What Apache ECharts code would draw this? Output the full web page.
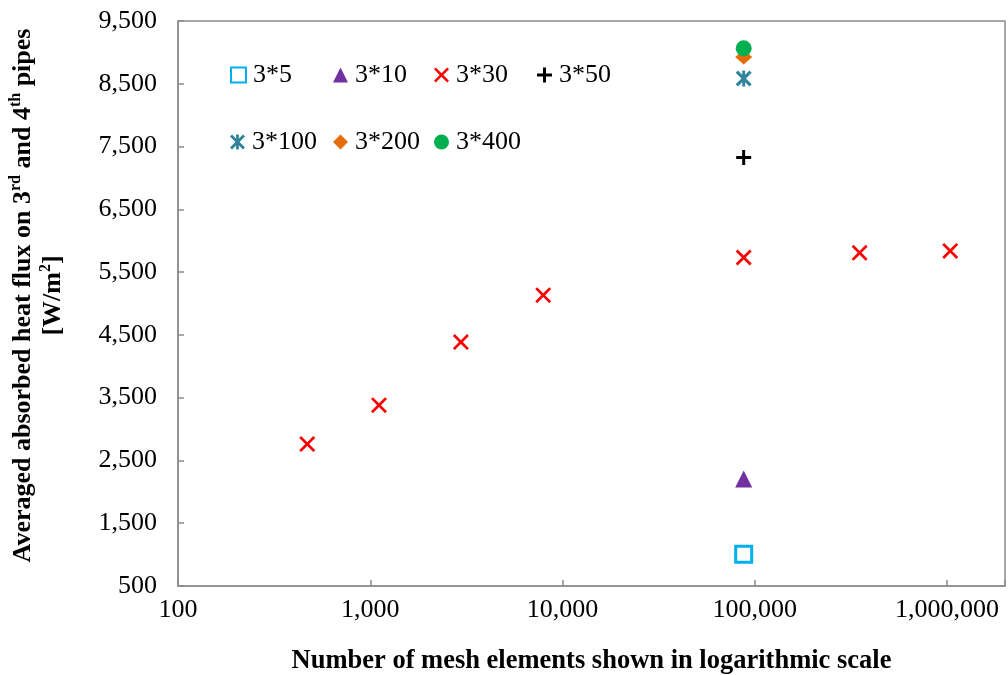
<!DOCTYPE html>
<html>
<head>
<meta charset="utf-8">
<script src="https://cdn.jsdelivr.net/npm/echarts@6/dist/echarts.min.js"></script>
<style>
  html, body { margin: 0; padding: 0; background: #fff; }
  #chart { width: 1008px; height: 675px; }
</style>
</head>
<body>
<div id="chart"></div>
<script>
// Mesh-independence study: absorbed heat flux vs number of mesh elements
const seriesNames = ['3*5', '3*10', '3*30', '3*50', '3*100', '3*200', '3*400'];

// 3*30 configuration refined over several meshes
const meshCounts30 = [470, 1110, 2960, 7930, 87500, 350800, 1038000];
const flux30 = [2760, 3380, 4385, 5133, 5733, 5807, 5838];

// other configurations evaluated on the chosen mesh
const singleMesh = 87500;
const singleNames = ['3*5', '3*10', '3*50', '3*100', '3*200', '3*400'];
const singleFlux = [1005, 2205, 7325, 8583, 8925, 9065];

const yTicks = [500, 1500, 2500, 3500, 4500, 5500, 6500, 7500, 8500, 9500];

const FONT = "'Liberation Serif', 'Times New Roman', serif";

// filled outline shapes for stroke-like markers
const xPath = 'path://M0 12 L12 0 L50 38 L88 0 L100 12 L62 50 L100 88 L88 100 L50 62 L12 100 L0 88 L38 50 Z';
const plusPath = 'path://M40 0 L60 0 L60 40 L100 40 L100 60 L60 60 L60 100 L40 100 L40 60 L0 60 L0 40 L40 40 Z';
const starPath = 'path://M0 14 L14 0 L50 36 L86 0 L100 14 L64 50 L100 86 L86 100 L50 64 L14 100 L0 86 L36 50 Z M41 0 L59 0 L59 100 L41 100 Z';

const styles = {
  '3*5':   { symbol: 'rect', size: 16, itemStyle: { color: '#ffffff', borderColor: '#00b0f0', borderWidth: 3, opacity: 1 } },
  '3*10':  { symbol: 'triangle', size: 17, itemStyle: { color: '#7030a0', opacity: 1 } },
  '3*30':  { symbol: xPath, size: 16, itemStyle: { color: '#ff0000', opacity: 1 } },
  '3*50':  { symbol: plusPath, size: 15, itemStyle: { color: '#000000', opacity: 1 } },
  '3*100': { symbol: starPath, size: 16, itemStyle: { color: '#31849b', opacity: 1 } },
  '3*200': { symbol: 'diamond', size: [17, 15], itemStyle: { color: '#e46c0a', opacity: 1 } },
  '3*400': { symbol: 'circle', size: 16, itemStyle: { color: '#00b050', opacity: 1 } }
};

function seriesData(name) {
  if (name === '3*30') return meshCounts30.map((m, i) => [m, flux30[i]]);
  const idx = singleNames.indexOf(name);
  return [[singleMesh, singleFlux[idx]]];
}

const series = seriesNames.map(name => ({
  name: name,
  type: 'scatter',
  symbol: styles[name].symbol,
  symbolSize: styles[name].size,
  itemStyle: styles[name].itemStyle,
  data: seriesData(name),
  z: name === '3*400' ? 5 : 3
}));

// legend placed as a two-row block inside the plot area
const legendCols = [230, 333, 434, 537];
const legendRows = [75, 142];
const legends = seriesNames.map((name, i) => {
  const row = i < 4 ? 0 : 1;
  const col = i < 4 ? i : i - 4;
  return {
    data: [name],
    left: legendCols[col],
    top: legendRows[row] - 13,
    padding: 0,
    itemWidth: 15,
    itemHeight: 15,
    itemGap: 0,
    selectedMode: false,
    textStyle: { fontFamily: FONT, fontSize: 26, color: '#000', lineHeight: 26, padding: [0, 0, 0, 2] }
  };
});

function commas(v) {
  return String(Math.round(v)).replace(/\B(?=(\d{3})+(?!\d))/g, ',');
}

const chart = echarts.init(document.getElementById('chart'), null, { renderer: 'canvas' });
chart.setOption({
  animation: false,
  backgroundColor: '#ffffff',
  grid: {
    left: 178, right: 3, top: 21, bottom: 89,
    outerBoundsMode: 'none',
    show: true, borderColor: '#8c8c8c', borderWidth: 1.5, backgroundColor: 'transparent'
  },
  legend: legends,
  xAxis: {
    type: 'log',
    logBase: 10,
    min: 100,
    max: 2000000,
    name: 'Number of mesh elements shown in logarithmic scale',
    nameLocation: 'middle',
    nameGap: 62,
    nameTextStyle: { fontFamily: FONT, fontSize: 26.5, fontWeight: 'bold', color: '#000' },
    axisLine: { lineStyle: { color: '#8c8c8c', width: 1.5 } },
    axisTick: { inside: true, length: 6, lineStyle: { color: '#8c8c8c', width: 1.5 } },
    minorTick: { show: false },
    splitLine: { show: false },
    axisLabel: {
      margin: 11,
      fontFamily: FONT, fontSize: 26, color: '#000',
      formatter: function (v) {
        const l = Math.log10(v);
        return Math.abs(l - Math.round(l)) < 1e-6 ? commas(v) : '';
      }
    }
  },
  yAxis: {
    type: 'value',
    min: yTicks[0],
    max: yTicks[yTicks.length - 1],
    interval: yTicks[1] - yTicks[0],
    name: '{b|Averaged absorbed heat flux on 3}{s|rd}{b| and 4}{s|th}{b| pipes}\n{b|[W/m}{s|2}{b|]}',
    nameLocation: 'middle',
    nameRotate: 90,
    nameGap: 110,
    nameTextStyle: {
      padding: [0, 0, 0, 16],
      rich: {
        b: { fontFamily: FONT, fontSize: 26, fontWeight: 'bold', color: '#000', lineHeight: 30 },
        s: { fontFamily: FONT, fontSize: 16, fontWeight: 'bold', color: '#000', lineHeight: 19, verticalAlign: 'top' }
      }
    },
    axisLine: { show: true, lineStyle: { color: '#8c8c8c', width: 1.5 } },
    axisTick: { show: true, inside: true, length: 6, lineStyle: { color: '#8c8c8c', width: 1.5 } },
    splitLine: { show: false },
    axisLabel: {
      margin: 21,
      fontFamily: FONT, fontSize: 26, color: '#000',
      formatter: function (v) { return commas(v); }
    }
  },
  series: series
});
</script>
</body>
</html>
